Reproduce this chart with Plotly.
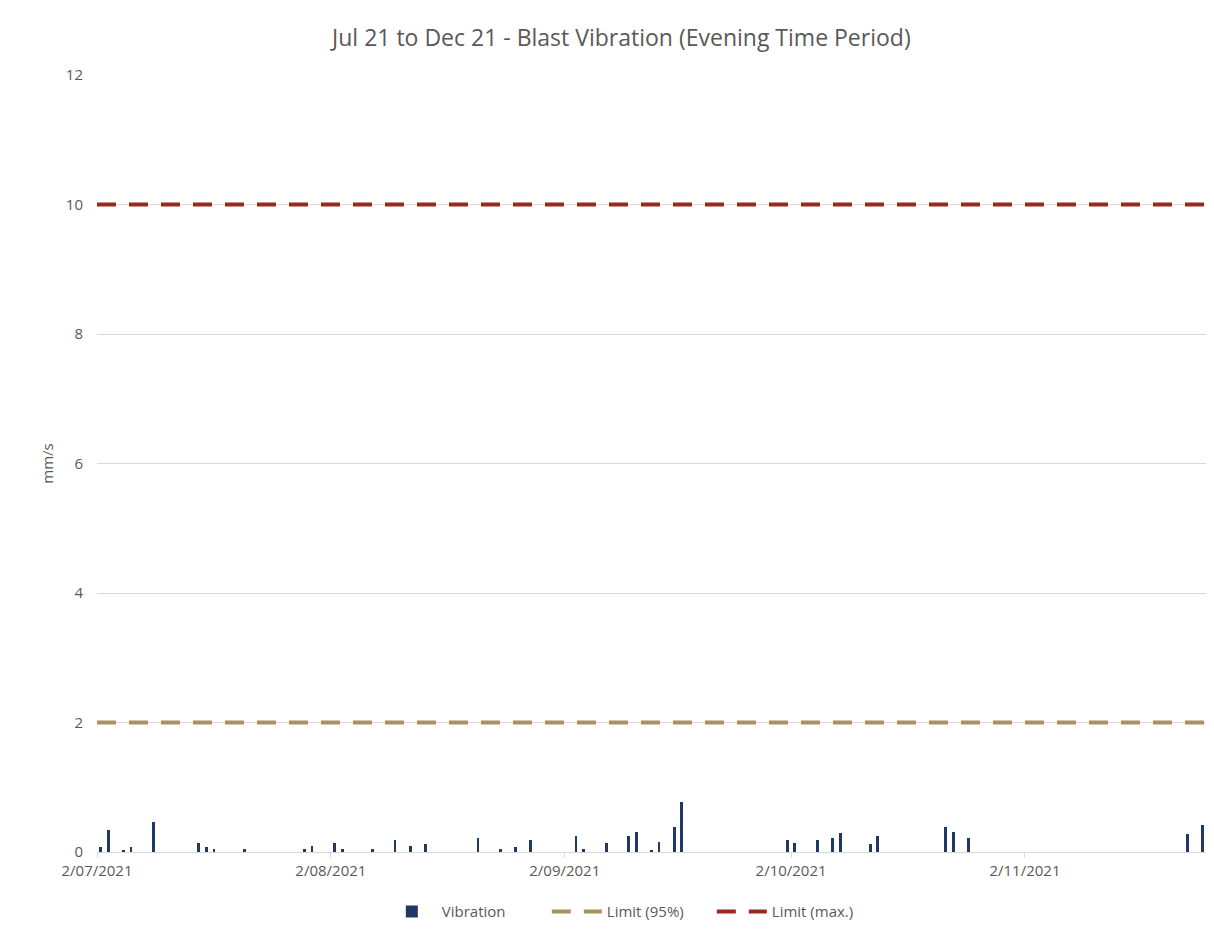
import plotly.graph_objects as go

# blast vibration readings (evening period), mm/s
blast_dates = [
    "2021-07-02", "2021-07-03", "2021-07-05", "2021-07-06", "2021-07-09",
    "2021-07-15", "2021-07-16", "2021-07-17", "2021-07-21", "2021-07-29",
    "2021-07-30", "2021-08-02", "2021-08-03", "2021-08-07", "2021-08-10",
    "2021-08-12", "2021-08-14", "2021-08-21", "2021-08-24", "2021-08-26",
    "2021-08-28", "2021-09-03", "2021-09-04", "2021-09-07", "2021-09-10",
    "2021-09-11", "2021-09-13", "2021-09-14", "2021-09-16", "2021-09-17",
    "2021-10-01", "2021-10-02", "2021-10-05", "2021-10-07", "2021-10-08",
    "2021-10-12", "2021-10-13", "2021-10-22", "2021-10-23", "2021-10-25",
    "2021-11-23", "2021-11-25",
]
vibration = [
    0.08, 0.34, 0.03, 0.08, 0.47,
    0.14, 0.08, 0.04, 0.04, 0.05,
    0.09, 0.14, 0.04, 0.05, 0.18,
    0.09, 0.12, 0.21, 0.05, 0.08,
    0.18, 0.25, 0.05, 0.14, 0.25,
    0.31, 0.035, 0.15, 0.38, 0.77,
    0.18, 0.14, 0.18, 0.22, 0.29,
    0.12, 0.24, 0.38, 0.31, 0.22,
    0.28, 0.42,
]

limit_dates = ["2021-07-02", "2021-11-26"]
limit_95 = [2, 2]
limit_max = [10, 10]

tick_dates = ["2021-07-02", "2021-08-02", "2021-09-02", "2021-10-02", "2021-11-02"]
tick_labels = ["2/07/2021", "2/08/2021", "2/09/2021", "2/10/2021", "2/11/2021"]

DAY_MS = 86400000
GREY = "#595959"

fig = go.Figure()

fig.add_trace(
    go.Bar(
        x=blast_dates,
        y=vibration,
        name="Vibration",
        marker=dict(color="#1F3864", line=dict(width=0)),
        width=0.38 * DAY_MS,
        xperiod=DAY_MS,
        xperiodalignment="middle",
    )
)

fig.add_trace(
    go.Scatter(
        x=limit_dates,
        y=limit_95,
        name="Limit (95%)",
        mode="lines",
        line=dict(color="#A8925F", width=4, dash="19px,13px"),
    )
)

fig.add_trace(
    go.Scatter(
        x=limit_dates,
        y=limit_max,
        name="Limit (max.)",
        mode="lines",
        line=dict(color="#962A21", width=4, dash="19px,13px"),
    )
)

# page body adds 8px around the figure
fig.update_layout(
    width=1198,
    height=922,
    paper_bgcolor="white",
    plot_bgcolor="white",
    font=dict(family="Open Sans, Noto Sans, sans-serif", color=GREY, size=15),
    title=dict(
        text="Jul 21 to Dec 21 - Blast Vibration (Evening Time Period)",
        x=0.512,
        xanchor="center",
        y=0.9675,
        yanchor="middle",
        font=dict(size=23, color=GREY),
    ),
    margin=dict(l=89, r=0, t=67, b=78),
    bargap=0,
    showlegend=True,
    legend=dict(
        orientation="h",
        x=0.48,
        xanchor="center",
        y=-0.077,
        yanchor="middle",
        font=dict(size=15, color=GREY),
        itemwidth=50,
        entrywidth=100,
        entrywidthmode="pixels",
        traceorder="normal",
    ),
)

fig.update_xaxes(
    type="date",
    range=["2021-07-02", "2021-11-26"],
    tickvals=tick_dates,
    ticktext=tick_labels,
    ticks="outside",
    ticklen=5,
    tickcolor="#D9D9D9",
    showline=True,
    linecolor="#D9D9D9",
    linewidth=1,
    showgrid=False,
    zeroline=False,
    tickfont=dict(size=15, color=GREY),
)

fig.update_yaxes(
    range=[0, 12],
    dtick=2,
    showgrid=True,
    gridcolor="#D9D9D9",
    gridwidth=1,
    zeroline=False,
    showline=False,
    ticks="",
    ticklabelstandoff=13,
    title=dict(text="mm/s", font=dict(size=15, color=GREY), standoff=8),
    tickfont=dict(size=15, color=GREY),
)

fig.write_html("out.html")
